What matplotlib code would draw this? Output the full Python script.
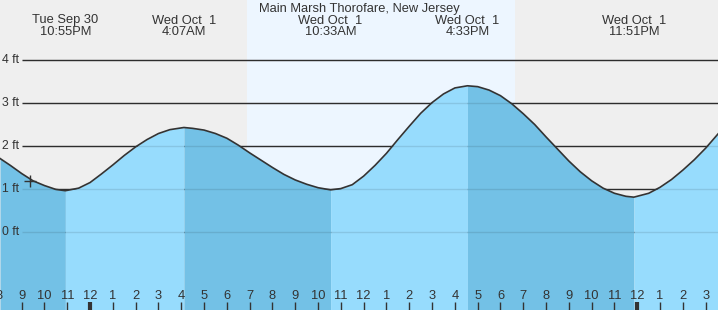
import numpy as np
import matplotlib.pyplot as plt
from matplotlib.transforms import blended_transform_factory

# hours relative to Wed Oct 1 00:00, heights in ft
hours = [-3.95, -3.5, -3, -2.5, -2, -1.5, -1.083,
         -0.5, 0, 0.5, 1, 1.5, 2, 2.5, 3, 3.5, 4.117,
         4.5, 5, 5.5, 6, 6.5, 7, 7.5, 8, 8.5, 9, 9.5, 10, 10.55,
         11, 11.5, 12, 12.5, 13, 13.5, 14, 14.5, 15, 15.5, 16, 16.55,
         17, 17.5, 18, 18.5, 19, 19.5, 20, 20.5, 21, 21.5, 22, 22.5, 23, 23.5, 23.85,
         24.5, 25, 25.5, 26, 26.5, 27, 27.54]
heights = [1.71, 1.55, 1.36, 1.19, 1.08, 0.99, 0.96,
           1.02, 1.15, 1.35, 1.56, 1.78, 1.98, 2.15, 2.29, 2.38, 2.43,
           2.41, 2.37, 2.29, 2.18, 2.02, 1.84, 1.67, 1.50, 1.34, 1.21, 1.11, 1.03, 0.98,
           1.01, 1.10, 1.30, 1.55, 1.83, 2.15, 2.46, 2.76, 3.01, 3.21, 3.35, 3.40,
           3.38, 3.30, 3.17, 2.98, 2.75, 2.50, 2.21, 1.93, 1.65, 1.40, 1.19, 1.02, 0.90, 0.83, 0.81,
           0.90, 1.04, 1.22, 1.44, 1.68, 1.95, 2.28]

# tide extremes (hour, label)
extreme_hours = [-1.083, 4.117, 10.55, 16.55, 23.85]
extreme_labels = ["Tue Sep 30\n10:55PM", "Wed Oct  1\n4:07AM", "Wed Oct  1\n10:33AM",
                  "Wed Oct  1\n4:33PM", "Wed Oct  1\n11:51PM"]

sunrise, sunset = 6.89, 18.64
now_hour, now_height = -2.63, 1.19
ft_levels = [0, 1, 2, 3, 4]
title = "Main Marsh Thorofare, New Jersey"

x0, x1 = -3.95, 27.54
y0, y1 = -1.814, 5.395

night_bg = "#efefef"
day_bg = "#edf6ff"
fall_col = "#73c1e6"
rise_col = "#97dcfd"
txt = "#333333"
font = "Liberation Sans"

fig = plt.figure(figsize=(7.18, 3.10), dpi=100)
ax = fig.add_axes([0, 0, 1, 1])
ax.set_xlim(x0, x1)
ax.set_ylim(y0, y1)
ax.axis("off")
fig.patch.set_facecolor(night_bg)

ax.axvspan(x0, sunrise, color=night_bg, zorder=0, lw=0)
ax.axvspan(sunrise, sunset, color=day_bg, zorder=0, lw=0)
ax.axvspan(sunset, x1, color=night_bg, zorder=0, lw=0)

grid_x0 = -2.98
ax.hlines(ft_levels, grid_x0, x1, color="#333333", lw=1.0, zorder=1)

h = np.array(hours)
v = np.array(heights)
# segments between extremes: falling darker, rising lighter
bounds = [x0] + extreme_hours + [x1]
for i in range(len(bounds) - 1):
    m = (h >= bounds[i]) & (h <= bounds[i + 1])
    falling = v[m][-1] < v[m][0]
    ax.fill_between(h[m], y0, v[m], color=fall_col if falling else rise_col,
                    lw=0, zorder=2)

ax.hlines(ft_levels, grid_x0, x1, color="black", alpha=0.1, lw=1.0, zorder=3)
ax.plot(h, v, color="#333333", lw=1.2, zorder=4, solid_joinstyle="round")
ax.plot([now_hour], [now_height], marker="+", ms=9, mew=1.0, color="#333333", zorder=5)

for lv in ft_levels:
    ax.text(-3.87, lv, f"{lv} ft", ha="left", va="center", fontsize=8.8,
            color=txt, family=font, zorder=5)

tr = blended_transform_factory(ax.transData, ax.transAxes)
for eh, lab in zip(extreme_hours, extreme_labels):
    ax.text(eh, 1 - 14.5 / 310, lab, ha="center", va="top", fontsize=9.3,
            color=txt, family=font, linespacing=0.95, transform=tr)

fig.text(0.5, 1 - 3 / 310, title, ha="center", va="top", fontsize=9.3,
         color=txt, family=font)

for hr in range(-4, 28):
    lab = str((hr % 12) or 12)
    ax.text(hr, 14 / 310, lab, ha="center", va="center", fontsize=9.3,
            color=txt, family=font, transform=tr, zorder=5)
    thick = hr % 24 == 0
    ax.plot([hr, hr], [0, 8 / 310], color=txt, lw=3 if thick else 1,
            transform=tr, zorder=5, solid_capstyle="butt")

fig.savefig("out.png", dpi=100, facecolor=night_bg)
